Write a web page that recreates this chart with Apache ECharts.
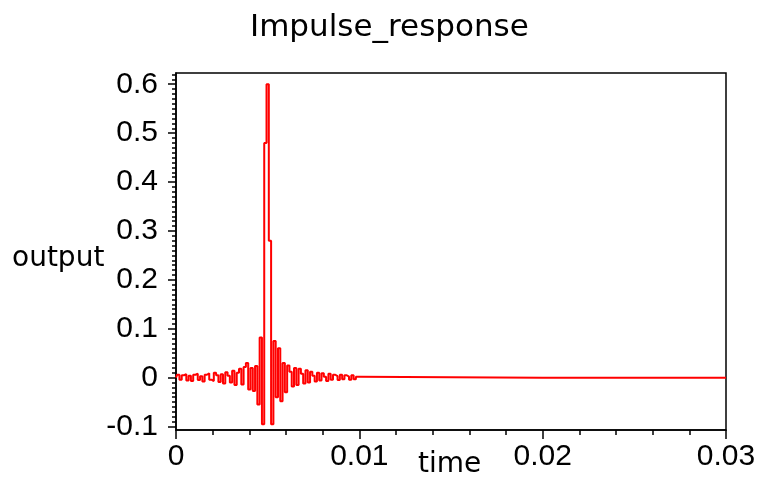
<!DOCTYPE html>
<html>
<head>
<meta charset="utf-8">
<script src="https://cdn.jsdelivr.net/npm/echarts@6/dist/echarts.min.js"></script>
<style>html,body{margin:0;padding:0;background:#fff;}#chart{width:759px;height:480px;}</style>
</head>
<body>
<div id="chart"></div>
<script>
var titleText = 'Impulse_response';
var xName = 'time';
var yName = 'output';
var xTicks = [0, 0.01, 0.02, 0.03];
var yTicks = [-0.1, 0, 0.1, 0.2, 0.3, 0.4, 0.5, 0.6];
var times = [0, 0.000125, 0.00025, 0.000375, 0.0005, 0.000625, 0.00075, 0.000875, 0.001, 0.001125,
  0.00125, 0.001375, 0.0015, 0.001625, 0.00175, 0.001875, 0.002, 0.002125, 0.00225, 0.002375,
  0.0025, 0.002625, 0.00275, 0.002875, 0.003, 0.003125, 0.00325, 0.003375, 0.0035, 0.003625,
  0.00375, 0.003875, 0.004, 0.004125, 0.00425, 0.004375, 0.0045, 0.004625, 0.00475, 0.004875,
  0.005, 0.005125, 0.00525, 0.005375, 0.0055, 0.005625, 0.00575, 0.005875, 0.006, 0.006125,
  0.00625, 0.006375, 0.0065, 0.006625, 0.00675, 0.006875, 0.007, 0.007125, 0.00725, 0.007375,
  0.0075, 0.007625, 0.00775, 0.007875, 0.008, 0.008125, 0.00825, 0.008375, 0.0085, 0.008625,
  0.00875, 0.008875, 0.009, 0.009125, 0.00925, 0.009375, 0.0095, 0.009625, 0.00975, 0.009875,
  0.01, 0.03];
var outputs = [0.000, 0.006, -0.004, 0.005, 0.007, -0.006, 0.004, -0.007, 0.006, 0.008,
  -0.005, 0.003, -0.008, 0.006, 0.009, -0.004, -0.007, 0.010, 0.005, -0.009,
  0.007, -0.012, 0.011, 0.004, -0.010, 0.014, -0.015, 0.010, 0.018, -0.014,
  0.022, 0.030, -0.024, 0.020, -0.027, 0.024, -0.055, 0.082, -0.095, 0.48,
  0.60, 0.28, -0.095, 0.075, -0.040, 0.060, -0.048, 0.030, -0.030, 0.025,
  0.012, -0.018, 0.020, -0.015, 0.018, 0.008, -0.012, 0.015, -0.010, 0.012,
  0.004, -0.008, 0.010, -0.006, 0.009, 0.002, -0.007, 0.008, -0.004, 0.006,
  0.003, -0.005, 0.006, -0.003, 0.005, 0.002, -0.004, 0.005, -0.003, 0.002,
  0.000, 0.000];

var yMinorTicks = [];
for (var k = -10; k <= 62; k++) { yMinorTicks.push(Math.round(k) / 100); }

var seriesData = times.map(function (t, i) { return [t, outputs[i]]; });
var labelFont = { color: '#000', fontFamily: 'Liberation Sans, Arial, sans-serif', fontSize: 30 };

var chart = echarts.init(document.getElementById('chart'), null, { renderer: 'canvas' });
chart.setOption({
  animation: false,
  backgroundColor: '#fff',
  title: {
    text: titleText, left: 245, top: 7,
    textStyle: { color: '#000', fontFamily: 'DejaVu Sans', fontSize: 31, fontWeight: 'normal' }
  },
  grid: { left: 176, right: 33, top: 73, bottom: 50, show: true, borderColor: '#000', borderWidth: 1.5, backgroundColor: 'transparent' },
  xAxis: {
    type: 'value', min: 0, max: 0.03, interval: 0.01,
    axisLine: { show: true, onZero: false, lineStyle: { color: '#000', width: 1.5 } },
    axisTick: { show: true, inside: false, length: 9, lineStyle: { color: '#000', width: 1.5 } },
    minorTick: { show: true, splitNumber: 5, length: 5, lineStyle: { color: '#000', width: 1.5 } },
    splitLine: { show: false },
    axisLabel: Object.assign({ margin: 12, showMinLabel: true, showMaxLabel: true,
      customValues: xTicks, formatter: function (v) { return String(v); } }, labelFont)
  },
  yAxis: [{
    type: 'value', min: -0.107, max: 0.623,
    axisLine: { show: true, onZero: false, lineStyle: { color: '#000', width: 1.5 } },
    axisTick: { show: true, inside: false, length: 8, customValues: yTicks, lineStyle: { color: '#000', width: 1.5 } },
    splitLine: { show: false },
    axisLabel: Object.assign({ margin: 18, customValues: yTicks,
      formatter: function (v) { return String(Math.round(v * 10) / 10); } }, labelFont)
  }, {
    type: 'value', min: -0.107, max: 0.623, position: 'left',
    axisLine: { show: false },
    axisTick: { show: true, inside: false, length: 4, customValues: yMinorTicks, lineStyle: { color: '#000', width: 1.5 } },
    splitLine: { show: false },
    axisLabel: { show: false }
  }],
  graphic: [
    { type: 'text', left: 12, top: 245, style: { text: yName, fill: '#000', font: '28px "DejaVu Sans"' } },
    { type: 'text', left: 418, top: 451, style: { text: xName, fill: '#000', font: '28px "DejaVu Sans"' } }
  ],
  series: [{
    type: 'line', data: seriesData, yAxisIndex: 0, showSymbol: false, symbol: 'none', step: 'middle',
    lineStyle: { color: '#ff0000', width: 2 }, itemStyle: { color: '#ff0000' }, sampling: null
  }]
});
</script>
</body>
</html>
